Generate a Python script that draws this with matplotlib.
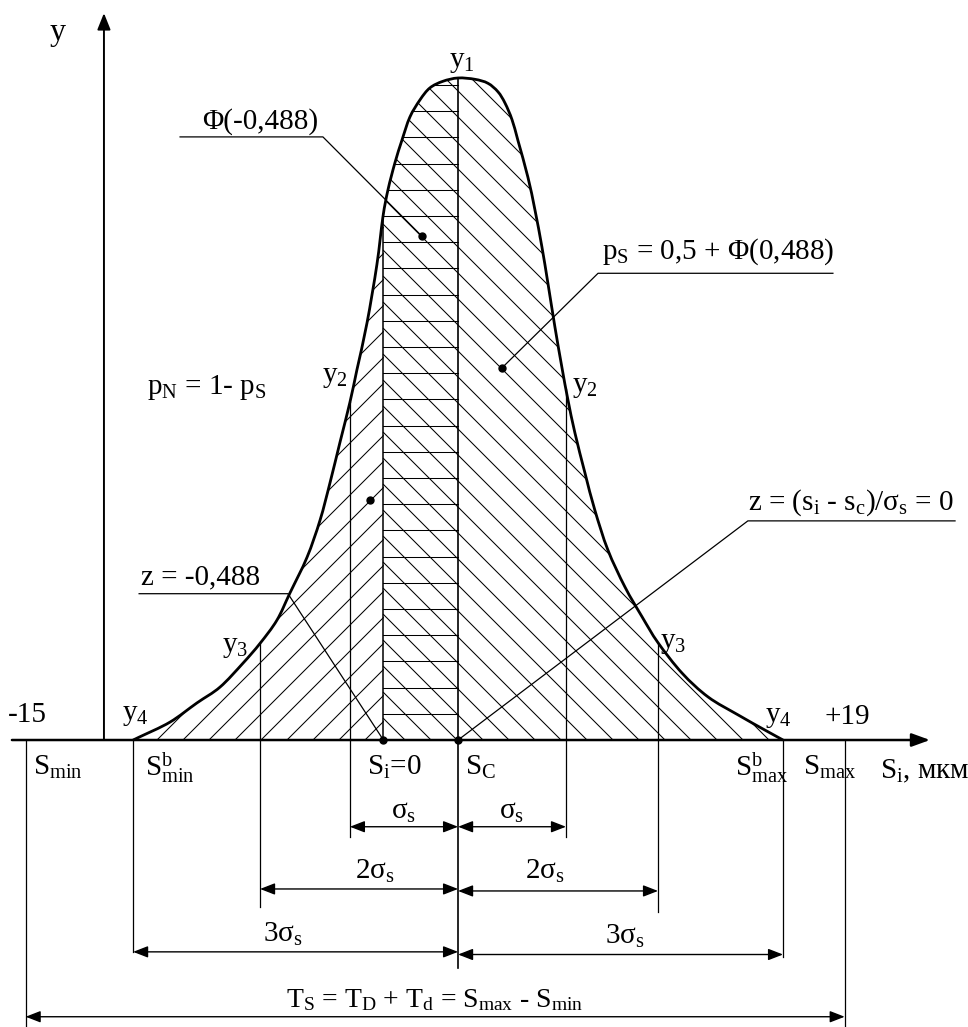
import numpy as np
import matplotlib.pyplot as plt
from matplotlib.path import Path
from matplotlib.patches import PathPatch

plt.rcParams['font.family'] = ['Liberation Serif', 'DejaVu Serif']
plt.rcParams['mathtext.fontset'] = 'custom'
plt.rcParams['mathtext.rm'] = 'Liberation Serif'
plt.rcParams['mathtext.it'] = 'Liberation Serif:italic'
plt.rcParams['mathtext.bf'] = 'Liberation Serif:bold'

# distribution curve: S_i (мкм) and y relative to y1
curve_x = [-10.54, -10.25, -9.01, -7.89, -6.93, -5.98, -5.27, -4.57, -4.03, -3.32,
           -2.78, -2.37, -1.95, -1.54, -1.25, -0.83, -0.42, -0.17, 0.04, 0.33,
           0.62, 0.95, 1.37, 1.78, 2.32, 2.95, 3.65, 4.19, 4.61,
           4.90, 5.19, 5.44, 5.85, 6.14, 6.43, 6.68, 6.97, 7.26, 7.51,
           7.80, 8.22, 8.63, 9.17, 9.88, 10.59, 11.25, 12.25, 13.33, 14.57,
           15.69, 16.44]
curve_y = [0.0, 0.005, 0.027, 0.056, 0.080, 0.116, 0.146, 0.181, 0.222, 0.276,
           0.332, 0.388, 0.450, 0.510, 0.559, 0.630, 0.718, 0.790, 0.831, 0.872,
           0.906, 0.941, 0.967, 0.985, 0.995, 1.000, 0.998, 0.992, 0.979,
           0.962, 0.937, 0.905, 0.850, 0.801, 0.745, 0.690, 0.624, 0.563, 0.514,
           0.464, 0.403, 0.347, 0.287, 0.231, 0.186, 0.147, 0.101, 0.065, 0.038,
           0.015, 0.0]

s_min, s_max = -15, 19          # limits -15 / +19
s_b_min, s_b_max = -10.54, 16.44
s_i = -0.15                     # S_i = 0
s_c = 2.95                      # centre S_C
sig1 = [-1.54, 7.43]
sig2 = [-5.27, 11.25]
sig3 = [s_b_min, s_b_max]

cx = np.array(curve_x)
cy = np.array(curve_y)


def curve_at(x):
    return np.interp(x, cx, cy)


def smooth_path(xs, ys, close=False):
    # catmull-rom through the read points, drawn as bezier segments
    p = np.column_stack([xs, ys])
    ext = np.vstack([p[0], p, p[-1]])
    verts = [p[0]]
    codes = [Path.MOVETO]
    for i in range(1, len(ext) - 2):
        p0, p1, p2, p3 = ext[i - 1], ext[i], ext[i + 1], ext[i + 2]
        verts += [p1 + (p2 - p0) / 6, p2 - (p3 - p1) / 6, p2]
        codes += [Path.CURVE4] * 3
    if close:
        verts.append(p[0])
        codes.append(Path.CLOSEPOLY)
    return Path(np.array(verts), codes)


fig = plt.figure(figsize=(9.68, 10.27), dpi=100)
ax = fig.add_axes([0, 0, 1, 1])
ax.set_xlim(-16.065, 24.118)
ax.set_ylim(-0.4335, 1.1178)
ax.axis('off')

k = 24.09 / 662    # 45 degrees on screen
step = 26 / 24.09

# hatching, clipped to the area under the curve
area = PathPatch(smooth_path(cx, cy, close=True), fc='none', ec='none')
ax.add_patch(area)

for j in range(-40, 40):
    a = -9.548 + j * step
    x0, x1 = max(a, s_b_min), s_i
    if x1 > x0:
        ln, = ax.plot([x0, x1], [k * (x0 - a), k * (x1 - a)], color='k', lw=0.75)
        ln.set_clip_path(area)
    b = 2.906 + j * step
    x0, x1 = s_i, min(b, s_b_max)
    if x1 > x0:
        ln, = ax.plot([x0, x1], [k * (b - x0), k * (b - x1)], color='k', lw=0.75)
        ln.set_clip_path(area)
for j in range(1, 27):
    h = j * 26.2 / 662
    ln, = ax.plot([s_i, s_c], [h, h], color='k', lw=0.75)
    ln.set_clip_path(area)

# curve
ax.add_patch(PathPatch(smooth_path(cx, cy), fill=False, ec='k', lw=2.0, zorder=5))

# axes
ax.annotate('', xy=(22.54, 0), xytext=(-15.57, 0),
            arrowprops=dict(arrowstyle='-|>,head_length=0.55,head_width=0.2',
                            color='k', lw=1.8, mutation_scale=20, shrinkA=0, shrinkB=0))
ax.annotate('', xy=(-11.75, 1.098), xytext=(-11.75, 0),
            arrowprops=dict(arrowstyle='-|>,head_length=0.5,head_width=0.2',
                            color='k', lw=1.4, mutation_scale=20, shrinkA=0, shrinkB=0))

# vertical lines
ax.plot([s_i, s_i], [0, curve_at(s_i)], color='k', lw=1.1)
ax.plot([s_c, s_c], [-0.344, 1.0], color='k', lw=1.2)
ax.plot([sig1[0], sig1[0]], [-0.147, curve_at(sig1[0])], color='k', lw=0.9)
ax.plot([sig1[1], sig1[1]], [-0.147, curve_at(sig1[1])], color='k', lw=0.9)
ax.plot([sig2[0], sig2[0]], [-0.252, curve_at(sig2[0])], color='k', lw=0.9)
ax.plot([sig2[1], sig2[1]], [-0.260, curve_at(sig2[1])], color='k', lw=0.9)
ax.plot([sig3[0], sig3[0]], [-0.320, 0], color='k', lw=0.9)
ax.plot([sig3[1], sig3[1]], [-0.328, 0], color='k', lw=0.9)
ax.plot([s_min, s_min], [-0.4335, 0], color='k', lw=0.9)
ax.plot([s_max, s_max], [-0.4335, 0], color='k', lw=0.9)

# dimension arrows
dim = dict(arrowstyle='<|-|>,head_length=0.9,head_width=0.35', color='k', lw=1.0,
           mutation_scale=10, shrinkA=0, shrinkB=0)
for xl, xr, yy in [(sig1[0], s_c, -0.131), (s_c, sig1[1], -0.131),
                   (sig2[0], s_c, -0.225), (s_c, sig2[1], -0.228),
                   (sig3[0], s_c, -0.320), (s_c, sig3[1], -0.324),
                   (s_min, s_max, -0.418)]:
    ax.annotate('', xy=(xr, yy), xytext=(xl, yy), arrowprops=dim)

fs = 21
ax.text((sig1[0] + s_c) / 2, -0.109, r'$\mathrm{σ_s}$', fontsize=fs, ha='center', va='center')
ax.text((sig1[1] + s_c) / 2, -0.109, r'$\mathrm{σ_s}$', fontsize=fs, ha='center', va='center')
ax.text(-0.50, -0.199, r'2$\mathrm{σ_s}$', fontsize=fs, ha='center', va='center')
ax.text(6.56, -0.199, r'2$\mathrm{σ_s}$', fontsize=fs, ha='center', va='center')
ax.text(-4.32, -0.293, r'3$\mathrm{σ_s}$', fontsize=fs, ha='center', va='center')
ax.text(9.88, -0.296, r'3$\mathrm{σ_s}$', fontsize=fs, ha='center', va='center')
ax.text(1.99, -0.393, r'$\mathrm{T_S}$ = $\mathrm{T_D}$ + $\mathrm{T_d}$ = $\mathrm{S_{max}}$ - $\mathrm{S_{min}}$',
        fontsize=fs - 1, ha='center', va='center')

# labels along the S axis
ax.text(s_min + 0.3, -0.042, r'$\mathrm{S_{min}}$', fontsize=fs, ha='left', va='center')
ax.text(s_b_min + 0.5, -0.042, r'$\mathrm{S^{b}_{min}}$', fontsize=fs, ha='left', va='center')
ax.text(s_i - 0.68, -0.042, r'$\mathrm{S_i}$=0', fontsize=fs, ha='left', va='center')
ax.text(s_c + 0.3, -0.042, r'$\mathrm{S_C}$', fontsize=fs, ha='left', va='center')
ax.text(14.45, -0.042, r'$\mathrm{S^{b}_{max}}$', fontsize=fs, ha='left', va='center')
ax.text(s_max - 1.73, -0.042, r'$\mathrm{S_{max}}$', fontsize=fs, ha='left', va='center')
ax.text(20.47, -0.048, r'$\mathrm{S_i}$, мкм', fontsize=fs, ha='left', va='center')
ax.text(-14.94, 0.038, '-15', fontsize=fs, ha='center', va='center')
ax.text(19.10, 0.035, '+19', fontsize=fs, ha='center', va='center')
ax.text(-13.66, 1.069, 'y', fontsize=fs + 2, ha='center', va='center')

# y levels
ax.text(3.11, 1.024, r'$\mathrm{y_1}$', fontsize=fs, ha='center', va='center')
ax.text(-2.16, 0.548, r'$\mathrm{y_2}$', fontsize=fs, ha='center', va='center')
ax.text(8.22, 0.533, r'$\mathrm{y_2}$', fontsize=fs, ha='center', va='center')
ax.text(-6.31, 0.140, r'$\mathrm{y_3}$', fontsize=fs, ha='center', va='center')
ax.text(11.87, 0.147, r'$\mathrm{y_3}$', fontsize=fs, ha='center', va='center')
ax.text(-10.46, 0.038, r'$\mathrm{y_4}$', fontsize=fs, ha='center', va='center')
ax.text(16.23, 0.035, r'$\mathrm{y_4}$', fontsize=fs, ha='center', va='center')

# callouts
lw_l = 0.9
ax.text(-5.27, 0.934, 'Φ(-0,488)', fontsize=fs, ha='center', va='center')
ax.plot([-8.59, -2.66, 1.45], [0.911, 0.911, 0.761], color='k', lw=lw_l)
ax.plot(1.45, 0.761, 'o', color='k', ms=5)

ax.text(13.74, 0.737, r'$\mathrm{p_S}$ = 0,5 + Φ(0,488)', fontsize=fs, ha='center', va='center')
ax.plot([18.51, 8.76, 4.77], [0.705, 0.705, 0.562], color='k', lw=lw_l)
ax.plot(4.77, 0.562, 'o', color='k', ms=5)

ax.text(-7.47, 0.533, r'$\mathrm{p_N}$ = 1- $\mathrm{p_S}$', fontsize=fs, ha='center', va='center')
ax.plot(-0.71, 0.363, 'o', color='k', ms=5)

ax.text(-7.76, 0.245, 'z = -0,488', fontsize=fs, ha='center', va='center')
ax.plot([-10.29, -4.11, s_i], [0.221, 0.221, 0], color='k', lw=lw_l)
ax.plot(s_i, 0, 'o', color='k', ms=5, zorder=6)

ax.text(19.27, 0.358, r'z = ($\mathrm{s_i}$ - $\mathrm{s_c}$)/$\mathrm{σ_s}$ = 0', fontsize=fs,
        ha='center', va='center')
ax.plot([23.58, 14.98, s_c], [0.331, 0.331, 0], color='k', lw=lw_l)
ax.plot(s_c, 0, 'o', color='k', ms=5, zorder=6)

fig.savefig('out.png', dpi=100)
